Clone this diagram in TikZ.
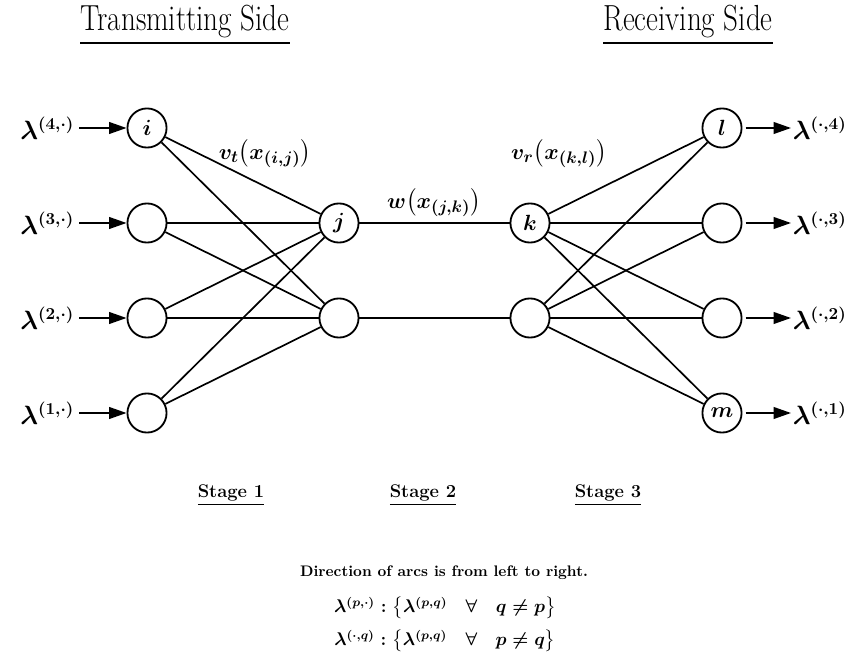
\documentclass[tikz,border=0pt]{standalone}
\usepackage{amsmath,amssymb}
\usepackage{graphicx}
\usepackage{tikz}
\usetikzlibrary{arrows.meta,positioning}
\newcommand{\tallHead}[1]{\scalebox{1}[1.25]{#1}}
\tikzset{
  netNode/.style={circle,draw,line width=1.2pt,minimum size=0.9cm,inner sep=0pt},
  netName/.style={font=\fontsize{15}{18}\selectfont\boldmath,inner sep=0pt},
  netEdge/.style={line width=1.1pt},
  netArrow/.style={-{Triangle[length=4mm,width=2.7mm]},line width=1.1pt,shorten <=2pt},
  netFlow/.style={font=\fontsize{16}{19}\selectfont\boldmath,inner sep=1pt},
  netCost/.style={font=\fontsize{15}{18}\selectfont\boldmath,inner sep=1pt},
  netHead/.style={font=\fontsize{19}{23}\selectfont},
  netStage/.style={font=\large\bfseries},
  netNote/.style={font=\normalsize\bfseries\boldmath,inner sep=1pt},
  netRule/.style={font=\large\bfseries\boldmath,inner sep=1pt}
}
\begin{document}
\begin{tikzpicture}[x=0.023cm,y=-0.023cm]
\path[use as bounding box] (0,0) rectangle (855,671);
\node[netHead] (hT) at (185,25) {\tallHead{\underline{Transmitting Side}}};
\node[netHead] (hR) at (688,25) {\tallHead{\underline{Receiving Side}}};
% nodes of the four columns
\foreach \n/\y in {4/128,3/223,2/318,1/413}{
  \node[netNode] (t\n) at (147,\y) {};
  \node[netNode] (d\n) at (722,\y) {};
  \node[netFlow,anchor=east] (in\n) at (76,\y) {$\lambda^{(\n,\cdot)}$};
  \node[netFlow,anchor=west] (out\n) at (791,\y) {$\lambda^{(\cdot,\n)}$};
}
\node[netNode] (s1) at (339,223) {};
\node[netNode] (s2) at (339,318) {};
\node[netNode] (r1) at (530,223) {};
\node[netNode] (r2) at (530,318) {};
\node[netName] at (t4) {$i$};
\node[netName] at (s1) {$j$};
\node[netName] at (r1) {$k$};
\node[netName] at (d4) {$l$};
\node[netName] at (d1) {$m$};
% arcs
\foreach \a in {1,...,4}
  \foreach \b in {1,2}{
    \draw[netEdge] (t\a) -- (s\b);
    \draw[netEdge] (r\b) -- (d\a);
  }
\draw[netEdge] (s1) -- (r1);
\draw[netEdge] (s2) -- (r2);
\foreach \n in {1,...,4}{
  \draw[netArrow] (in\n) -- (t\n);
  \draw[netArrow] (d\n) -- (out\n);
}
\node[netCost] (cT) at (265,154) {$v_t\bigl(x_{(i,j)}\bigr)$};
\node[netCost] (cW) at (434,203) {$w\bigl(x_{(j,k)}\bigr)$};
\node[netCost] (cR) at (559,154) {$v_r\bigl(x_{(k,l)}\bigr)$};
% stages
\node[netStage] (st1) at (231,495) {\underline{Stage 1}};
\node[netStage] (st2) at (423,495) {\underline{Stage 2}};
\node[netStage] (st3) at (608,495) {\underline{Stage 3}};
\node[netNote] (n1) at (444,573) {Direction of arcs is from left to right.};
\node[netRule] (n2) at (445,608) {$\lambda^{(p,\cdot)} : \bigl\{\lambda^{(p,q)} \quad \forall \quad q \neq p\bigr\}$};
\node[netRule] (n3) at (445,641) {$\lambda^{(\cdot,q)} : \bigl\{\lambda^{(p,q)} \quad \forall \quad p \neq q\bigr\}$};
\end{tikzpicture}
\end{document}
